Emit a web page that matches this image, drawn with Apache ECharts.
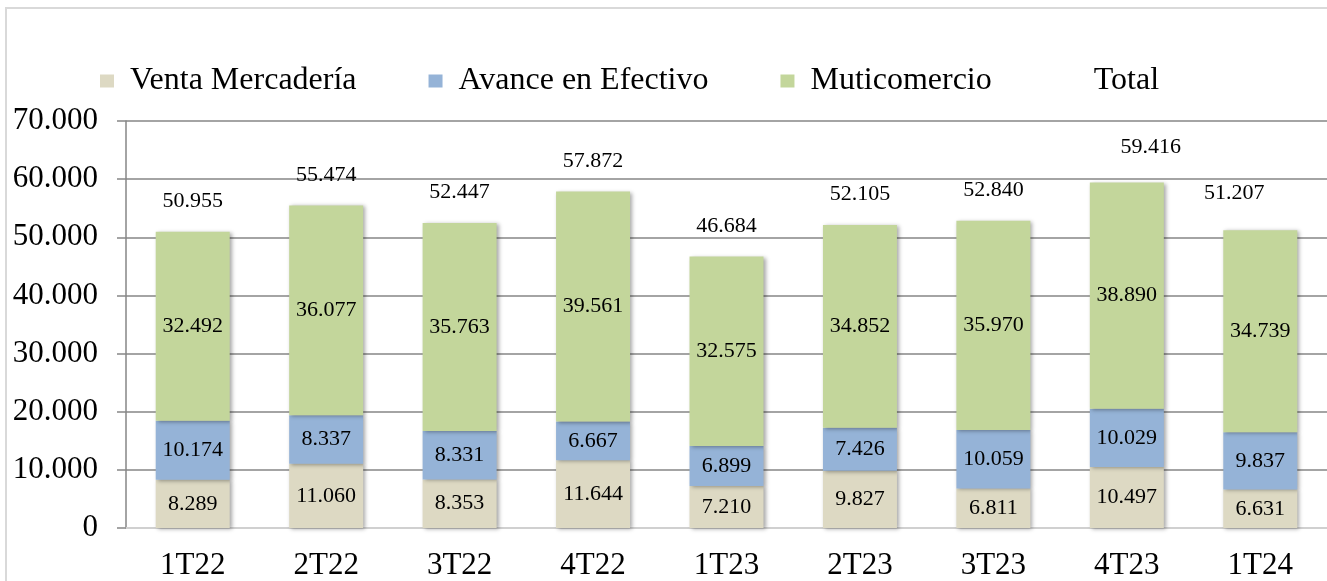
<!DOCTYPE html>
<html>
<head>
<meta charset="utf-8">
<script src="https://cdn.jsdelivr.net/npm/echarts@6/dist/echarts.min.js"></script>
<style>
  html, body { margin: 0; padding: 0; background: #fff; }
  #chart { width: 1327px; height: 581px; }
</style>
</head>
<body>
<div id="chart"></div>
<script>
// datos del gráfico
const trimestres = ['1T22', '2T22', '3T22', '4T22', '1T23', '2T23', '3T23', '4T23', '1T24']
const ventaMercaderia = [8289, 11060, 8353, 11644, 7210, 9827, 6811, 10497, 6631]
const avanceEfectivo = [10174, 8337, 8331, 6667, 6899, 7426, 10059, 10029, 9837]
const muticomercio = [32492, 36077, 35763, 39561, 32575, 34852, 35970, 38890, 34739]
const total = [50955, 55474, 52447, 57872, 46684, 52105, 52840, 59416, 51207]

const FONT = "'Liberation Serif', 'Times New Roman', serif"

// separador de miles con punto
const fmt = v => String(v).replace(/\B(?=(\d{3})+(?!\d))/g, '.')

const chart = echarts.init(document.getElementById('chart'))

const barShadow = {
  shadowColor: 'rgba(0,0,0,0.35)',
  shadowBlur: 4,
  shadowOffsetX: 2,
  shadowOffsetY: 1
}

const segLabel = {
  show: true,
  position: 'inside',
  color: '#000',
  fontFamily: FONT,
  fontSize: 22,
  formatter: p => fmt(p.value)
}

// etiquetas del total movidas a mano en el original
const totalOffsets = { 7: [24, -5], 8: [-26, -7] }

const option = {
  animation: false,
  graphic: [
    {
      type: 'rect',
      shape: { x: 6, y: 8, width: 1400, height: 700 },
      style: { fill: 'none', stroke: '#d9d9d9', lineWidth: 2 },
      silent: true
    }
  ],
  legend: {
    left: 95,
    top: 60,
    icon: 'rect',
    itemWidth: 14,
    itemHeight: 13,
    itemGap: 72,
    textStyle: {
      fontFamily: FONT,
      fontSize: 32,
      color: '#000',
      padding: [0, 0, 0, 11]
    },
    data: ['Venta Mercadería', 'Avance en Efectivo', 'Muticomercio', 'Total']
  },
  grid: {
    left: 126,
    right: 0,
    top: 121,
    bottom: 53,
    containLabel: false
  },
  xAxis: {
    type: 'category',
    data: trimestres,
    axisLine: { show: true, lineStyle: { color: '#d0d0d0', width: 2 } },
    axisTick: { show: false },
    axisLabel: {
      fontFamily: FONT,
      fontSize: 31,
      color: '#000',
      margin: 22
    }
  },
  yAxis: {
    type: 'value',
    min: 0,
    max: 70000,
    interval: 10000,
    axisLine: { show: true, lineStyle: { color: '#868686', width: 1.5 } },
    axisTick: { show: true, length: 9, lineStyle: { color: '#868686', width: 1.5 } },
    splitLine: { lineStyle: { color: '#868686', width: 1.5 } },
    axisLabel: {
      fontFamily: FONT,
      fontSize: 31,
      color: '#000',
      margin: 28,
      formatter: v => fmt(v)
    }
  },
  series: [
    {
      name: 'Venta Mercadería',
      type: 'bar',
      stack: 'tot',
      barWidth: 74,
      data: ventaMercaderia,
      itemStyle: Object.assign({ color: '#ddd9c3' }, barShadow),
      label: segLabel
    },
    {
      name: 'Avance en Efectivo',
      type: 'bar',
      stack: 'tot',
      barWidth: 74,
      data: avanceEfectivo,
      itemStyle: Object.assign({ color: '#95b3d7' }, barShadow),
      label: segLabel
    },
    {
      name: 'Muticomercio',
      type: 'bar',
      stack: 'tot',
      barWidth: 74,
      data: muticomercio,
      itemStyle: Object.assign({ color: '#c3d69b' }, barShadow),
      label: segLabel
    },
    {
      name: 'Total',
      type: 'line',
      symbol: 'circle',
      symbolSize: 1,
      itemStyle: { color: 'rgba(0,0,0,0)' },
      lineStyle: { width: 0, color: 'rgba(0,0,0,0)' },
      z: 10,
      data: total.map((v, i) => ({
        value: v,
        label: totalOffsets[i] ? { offset: totalOffsets[i] } : undefined
      })),
      label: {
        show: true,
        position: 'top',
        distance: 19,
        color: '#000',
        fontFamily: FONT,
        fontSize: 22,
        formatter: p => fmt(p.value)
      }
    }
  ]
}

chart.setOption(option)
window.addEventListener('resize', () => chart.resize())
</script>
</body>
</html>
